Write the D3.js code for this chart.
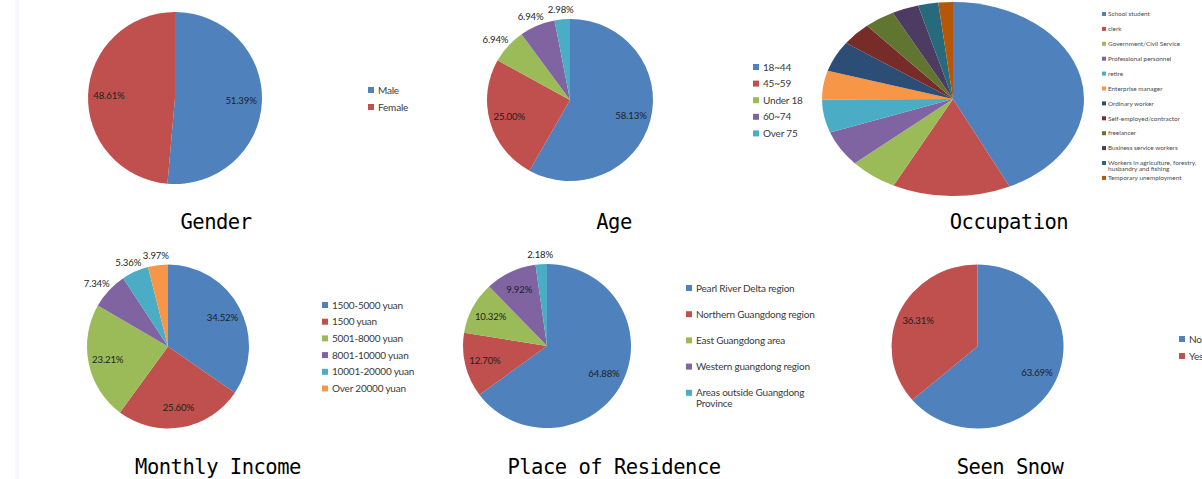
<!DOCTYPE html>
<html>
<head>
<meta charset="utf-8">
<script src="https://cdn.jsdelivr.net/npm/d3@7"></script>
<style>
  body { margin: 0; background: #fff; }
  svg { display: block; }
</style>
</head>
<body>
<svg id="chart" width="1202" height="479"></svg>
<script>
// chart data (percent of respondents)
const genderNames = ['Male', 'Female'];
const genderValues = [51.39, 48.61];

const ageNames = ['18~44', '45~59', 'Under 18', '60~74', 'Over 75'];
const ageValues = [58.13, 25.00, 6.94, 6.94, 2.98];

const occupationNames = [
    'School student', 'clerk', 'Government/Civil Service', 'Professional personnel',
    'retire', 'Enterprise manager', 'Ordinary worker', 'Self-employed/contractor',
    'freelancer', 'Business service workers',
    'Workers in agriculture, forestry,\nhusbandry and fishing', 'Temporary unemployment'
];
// no labels on this one
const occupationValues = [42.9, 14.6, 6.0, 5.9, 5.5, 4.8, 5.1, 3.8, 3.8, 3.3, 2.5, 1.8];

const incomeNames = ['1500-5000 yuan', '1500 yuan', '5001-8000 yuan', '8001-10000 yuan',
    '10001-20000 yuan', 'Over 20000 yuan'];
const incomeValues = [34.52, 25.60, 23.21, 7.34, 5.36, 3.97];

const residenceNames = ['Pearl River Delta region', 'Northern Guangdong region',
    'East Guangdong area', 'Western guangdong region', 'Areas outside Guangdong\nProvince'];
const residenceValues = [64.88, 12.70, 10.32, 9.92, 2.18];

const snowNames = ['No', 'Yes'];
const snowValues = [63.69, 36.31];

const palette = ['#4f81bd', '#c0504d', '#9bbb59', '#8064a2', '#4bacc6', '#f79646',
    '#2c4d75', '#772c2a', '#5f7530', '#4d3b62', '#276a7c', '#b65708'];

class PieChart {
    constructor(svg, opts) {
        this.opts = opts;
        this.g = svg.append('g').attr('class', 'pie-chart');
        this.arcs = d3.pie().sort(null).value(d => d.value)(
            opts.names.map((name, i) => ({ name: name, value: opts.values[i] }))
        );
        this.color = d3.scaleOrdinal().domain(opts.names).range(palette);
        this.drawSlices();
        if (opts.labels !== false)
            this.drawLabels();
        this.drawLegend();
        this.drawTitle();
    }
    drawSlices() {
        const o = this.opts;
        const arc = d3.arc().innerRadius(0).outerRadius(o.ry);
        this.g.append('g')
            .attr('transform', `translate(${o.cx},${o.cy}) scale(${o.rx / o.ry},1)`)
            .selectAll('path')
            .data(this.arcs)
            .join('path')
            .attr('d', arc)
            .attr('fill', d => this.color(d.data.name));
    }
    drawLabels() {
        const o = this.opts;
        const fmt = d3.format('.2f');
        const labels = this.g.append('g').selectAll('text')
            .data(this.arcs)
            .join('text')
            .attr('text-anchor', 'middle')
            .attr('dy', '0.35em')
            .attr('font-family', 'Lato, sans-serif')
            .attr('font-size', 9.6)
            .attr('letter-spacing', -0.15)
            .attr('fill', '#1e1e1e')
            .text(d => fmt(d.data.value) + '%');
        labels.each(function(d) {
            const a = (d.startAngle + d.endAngle) / 2;
            const sx = Math.sin(a), sy = -Math.cos(a);
            let x, y;
            if (d.data.value < o.outsideBelow) {
                // outside end: push the box past the rim
                const w = this.getComputedTextLength() / 2;
                x = o.cx + (o.rx + 4) * sx + w * sx;
                y = o.cy + (o.ry + 4) * sy + 6 * sy;
            } else {
                x = o.cx + o.rx * 0.76 * sx;
                y = o.cy + o.ry * 0.76 * sy;
            }
            d3.select(this).attr('x', x).attr('y', y);
        });
    }
    drawLegend() {
        const lg = this.opts.legend;
        const rows = this.g.append('g').selectAll('g')
            .data(this.opts.names)
            .join('g')
            .attr('transform', (d, i) => `translate(${lg.x},${lg.y + i * lg.step})`);
        rows.append('rect')
            .attr('x', 0)
            .attr('y', -lg.box / 2)
            .attr('width', lg.box)
            .attr('height', lg.box)
            .attr('fill', d => this.color(d));
        rows.append('text')
            .attr('x', lg.box + lg.gap)
            .attr('font-family', 'Lato, sans-serif')
            .attr('font-size', lg.font)
            .attr('letter-spacing', lg.spacing || 0)
            .attr('fill', lg.fill)
            .selectAll('tspan')
            .data(d => d.split('\n'))
            .join('tspan')
            .attr('x', lg.box + lg.gap)
            .attr('y', (d, i) => i * lg.lineH)
            .attr('dy', '0.35em')
            .text(d => d);
    }
    drawTitle() {
        const t = this.opts.title;
        this.g.append('text')
            .attr('x', t.x)
            .attr('y', t.y)
            .attr('text-anchor', 'middle')
            .attr('font-family', '"DejaVu Sans Mono", monospace')
            .attr('font-size', 20.5)
            .attr('letter-spacing', -0.5)
            .attr('fill', '#000')
            .text(t.text);
    }
}

const svg = d3.select('#chart');
svg.append('rect').attr('x', 15).attr('y', 0).attr('width', 4).attr('height', 479).attr('fill', '#f8f9fc');

const bigLegend = { box: 6, gap: 4, font: 10, spacing: -0.2, lineH: 11, fill: '#3a3a3a' };

new PieChart(svg, {
    names: genderNames, values: genderValues, outsideBelow: 8,
    cx: 175, cy: 98, rx: 87, ry: 86,
    legend: Object.assign({ x: 368, y: 90, step: 17 }, bigLegend),
    title: { text: 'Gender', x: 216, y: 229 }
});
new PieChart(svg, {
    names: ageNames, values: ageValues, outsideBelow: 8,
    cx: 570, cy: 100, rx: 83, ry: 81,
    legend: Object.assign({ x: 753, y: 67, step: 16.6 }, bigLegend),
    title: { text: 'Age', x: 614, y: 229 }
});
new PieChart(svg, {
    names: occupationNames, values: occupationValues, labels: false,
    cx: 953, cy: 99, rx: 131, ry: 97,
    legend: { x: 1102, y: 14, step: 14.9, box: 4, gap: 2, font: 6.4, lineH: 5.5, fill: '#4a4a4a' },
    title: { text: 'Occupation', x: 1009, y: 229 }
});
new PieChart(svg, {
    names: incomeNames, values: incomeValues, outsideBelow: 8,
    cx: 168, cy: 346.5, rx: 81, ry: 82,
    legend: Object.assign({ x: 322, y: 305, step: 16.7 }, bigLegend),
    title: { text: 'Monthly Income', x: 218, y: 474 }
});
new PieChart(svg, {
    names: residenceNames, values: residenceValues, outsideBelow: 8,
    cx: 547, cy: 346, rx: 84, ry: 82,
    legend: Object.assign({ x: 686, y: 288, step: 26.2 }, bigLegend),
    title: { text: 'Place of Residence', x: 614, y: 474 }
});
new PieChart(svg, {
    names: snowNames, values: snowValues, outsideBelow: 8,
    cx: 977.5, cy: 346.5, rx: 86, ry: 82,
    legend: Object.assign({ x: 1179, y: 339, step: 17 }, bigLegend),
    title: { text: 'Seen Snow', x: 1010, y: 474 }
});
</script>
</body>
</html>
